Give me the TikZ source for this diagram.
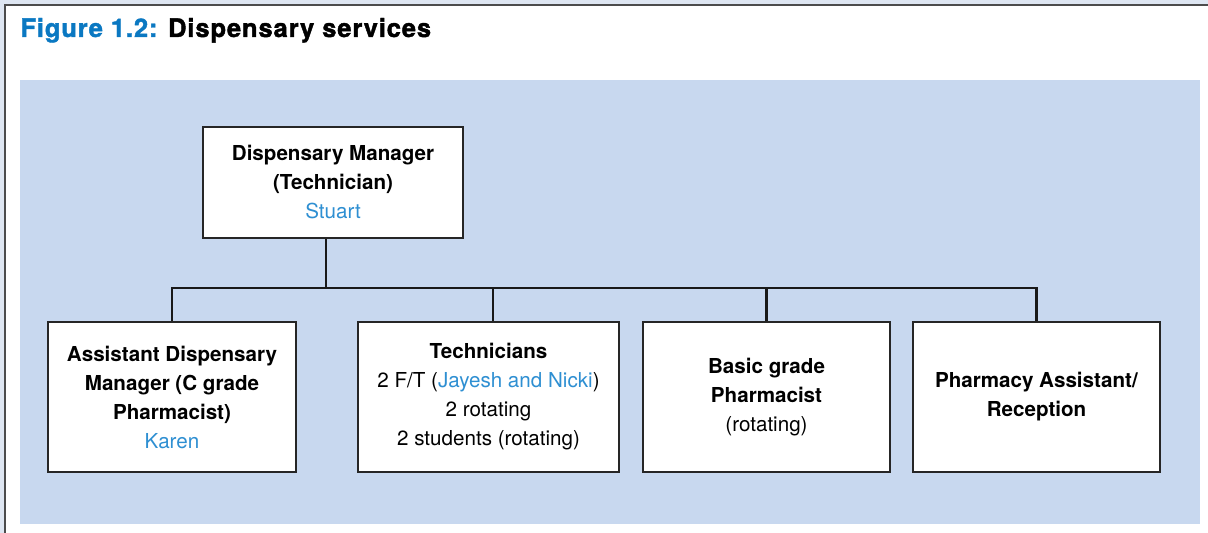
\documentclass[tikz,border=0pt]{standalone}
\usepackage{fontspec}
\setmainfont{TeX Gyre Heros}
\newfontfamily\titlefont[LetterSpace=3.5, BoldFeatures={FakeBold=1.6}]{TeX Gyre Heros}
\usetikzlibrary{positioning,calc}
\definecolor{panelblue}{HTML}{C8D8EF}
\definecolor{edgeblue}{HTML}{DEE6F2}
\definecolor{titleblue}{HTML}{0A78C2}
\definecolor{nameblue}{HTML}{2E8FD2}
\tikzset{
  post/.style={draw=black!85, fill=white, line width=0.75pt, align=center,
    inner sep=0pt, font=\fontsize{10.3}{14.5}\selectfont},
  link/.style={line width=1.1pt, black!90},
}
\newcommand{\who}[1]{\textcolor{nameblue}{#1}}

\begin{document}
\begin{tikzpicture}[x=0.5pt, y=-0.5pt]
    \useasboundingbox (0, 0) rectangle (1208, 533);
    \fill[edgeblue] (0, 0) rectangle (1208, 533);
    \fill[white] (5, 5) rectangle (1208, 533);
    \draw[black!70, line width=0.8pt] (5, 533) -- (5, 5) -- (1208, 5);
    
    \node[anchor=base west, inner sep=0pt, font=\titlefont\fontsize{12.75}{15}\selectfont\bfseries]
        (title) at (20, 37) {\textcolor{titleblue}{Figure 1.2:} Dispensary services};
    
    % Panel
    \fill[panelblue] (20, 80) rectangle (1200, 524);
    
    % Staff boxes
    \node[post, minimum width=130pt, minimum height=55.5pt] (mgr) at (333, 182.5)
        {\textbf{Dispensary Manager}\\ \textbf{(Technician)}\\ \who{Stuart}};
    
    \node[post, minimum width=124pt, minimum height=75pt] (asst) at (172, 397)
        {\textbf{Assistant Dispensary}\\ \textbf{Manager (C grade}\\ \textbf{Pharmacist)}\\ \who{Karen}};
    \node[post, minimum width=130.5pt, minimum height=75pt] (tech) at (488.5, 397)
        {\textbf{Technicians}\\ 2 F/T (\who{Jayesh and Nicki})\\ 2 rotating\\ 2 students (rotating)};
    \node[post, minimum width=123.5pt, minimum height=75pt] (basic) at (766.5, 397)
        {\textbf{Basic grade}\\ \textbf{Pharmacist}\\ (rotating)};
    \node[post, minimum width=123.5pt, minimum height=75pt] (recep) at (1036.5, 397)
        {\textbf{Pharmacy Assistant/}\\ \textbf{Reception}};
    
    % Connectors
    \coordinate (split) at (326, 288);
    \draw[link] (mgr.south -| split) -- (split);
    \draw[link] (asst.north) |- (recep.north |- split) -- (recep.north);
    \draw[link] ([xshift=2.2pt]tech.north) -- ([xshift=2.2pt]tech.north |- split);
    \draw[link] (basic.north) -- (basic.north |- split);
\end{tikzpicture}
\end{document}
